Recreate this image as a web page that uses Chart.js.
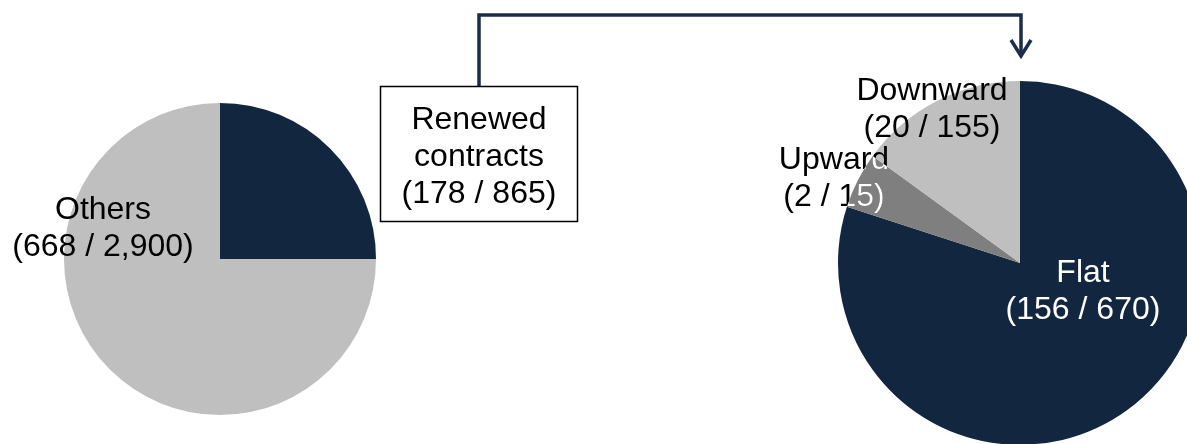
<!DOCTYPE html>
<html>
<head>
<meta charset="utf-8">
<script src="https://cdn.jsdelivr.net/npm/chart.js@4.4.1/dist/chart.umd.min.js"></script>
<style>
    html, body { margin: 0; padding: 0; background: #ffffff; overflow: hidden; }
    body { width: 1187px; height: 444px; position: relative; }
    canvas { position: absolute; }
    #leftChart { left: 0; top: 0; }
    #rightChart { left: 600px; top: 0; }
</style>
</head>
<body>
<canvas id="leftChart" width="1187" height="444"></canvas>
<canvas id="rightChart" width="700" height="500"></canvas>
<script>
// left pie: all contracts
const leftLabels = ["Renewed contracts", "Others"];
const leftShares = [25, 75];
const leftCounts = ["178 / 865", "668 / 2,900"];

// right pie: renewed contracts split by rent change
const rightLabels = ["Flat", "Upward", "Downward"];
const rightShares = [80, 5, 15];
const rightCounts = ["156 / 670", "2 / 15", "20 / 155"];

const NAVY = "#12263F";
const LIGHT = "#BFBFBF";
const MID = "#7F7F7F";
const LINE = "#1B2D4B";
const FONT = '32px "Liberation Sans", Arial, sans-serif';
const LINE_H = 37;

// draws two-line labels at an offset from the pie centre
const sliceLabels = {
    id: "sliceLabels",
    afterDatasetsDraw(chart, args, opts) {
        const ctx = chart.ctx;
        const arcs = chart.getDatasetMeta(0).data;
        const labels = chart.data.labels;
        const counts = opts.counts;

        ctx.save();
        ctx.font = FONT;
        ctx.textAlign = "center";
        ctx.textBaseline = "alphabetic";

        opts.items.forEach((item, i) => {
            if (!item) return;
            const arc = arcs[i];
            const x = arc.x + item.dx;
            const y = arc.y + item.dy;
            const lines = [labels[i], "(" + counts[i] + ")"];

            ctx.fillStyle = item.color;
            lines.forEach((t, k) => ctx.fillText(t, x, y + k * LINE_H));

            // part of the text that sits on its own slice
            if (item.insideColor) {
                ctx.save();
                ctx.beginPath();
                ctx.moveTo(arc.x, arc.y);
                ctx.arc(arc.x, arc.y, arc.outerRadius, arc.startAngle, arc.endAngle);
                ctx.closePath();
                ctx.clip();
                ctx.fillStyle = item.insideColor;
                lines.forEach((t, k) => ctx.fillText(t, x, y + k * LINE_H));
                ctx.restore();
            }
        });
        ctx.restore();
    }
};

// box for the renewed slice and the arrow to the right pie
const callout = {
    id: "callout",
    afterDraw(chart) {
        const ctx = chart.ctx;
        ctx.save();

        ctx.strokeStyle = LINE;
        ctx.lineWidth = 3.5;
        ctx.lineJoin = "miter";
        ctx.beginPath();
        ctx.moveTo(479, 86);
        ctx.lineTo(479, 15);
        ctx.lineTo(1021, 15);
        ctx.lineTo(1021, 56);
        ctx.stroke();

        ctx.beginPath();
        ctx.moveTo(1011, 40);
        ctx.lineTo(1021, 56);
        ctx.lineTo(1031, 40);
        ctx.stroke();

        ctx.fillStyle = "#ffffff";
        ctx.fillRect(380, 86, 198, 136);
        ctx.strokeStyle = "#000000";
        ctx.lineWidth = 1.5;
        ctx.strokeRect(380.5, 86.5, 197, 135);

        ctx.font = FONT;
        ctx.fillStyle = "#000000";
        ctx.textAlign = "center";
        ctx.textBaseline = "alphabetic";
        const lines = leftLabels[0].split(" ").concat(["(" + leftCounts[0] + ")"]);
        lines.forEach((t, k) => ctx.fillText(t, 479, 129 + k * LINE_H));

        ctx.restore();
    }
};

const pieOptions = (padding, labelOpts) => ({
    responsive: false,
    animation: false,
    layout: { padding: padding },
    plugins: {
        legend: { display: false },
        tooltip: { enabled: false },
        sliceLabels: labelOpts
    },
    events: []
});

const leftChart = new Chart(document.getElementById("leftChart"), {
    type: "pie",
    data: {
        labels: leftLabels,
        datasets: [{
            data: leftShares,
            backgroundColor: [NAVY, LIGHT],
            borderWidth: 0,
            hoverOffset: 0
        }]
    },
    options: pieOptions(
        { left: 64, top: 103, right: 811, bottom: 29 },
        {
            counts: leftCounts,
            items: [null, { dx: -117, dy: -40, color: "#000000" }]
        }
    ),
    plugins: [sliceLabels, callout]
});

const rightChart = new Chart(document.getElementById("rightChart"), {
    type: "pie",
    data: {
        labels: rightLabels,
        datasets: [{
            data: rightShares,
            backgroundColor: [NAVY, MID, LIGHT],
            borderWidth: 0,
            hoverOffset: 0
        }]
    },
    options: pieOptions(
        { left: 238, top: 81, right: 98, bottom: 55 },
        {
            counts: rightCounts,
            items: [
                { dx: 63, dy: 19, color: "#ffffff" },
                { dx: -186, dy: -94, color: "#000000", insideColor: "#ffffff" },
                { dx: -88, dy: -163, color: "#000000" }
            ]
        }
    ),
    plugins: [sliceLabels]
});
</script>
</body>
</html>
